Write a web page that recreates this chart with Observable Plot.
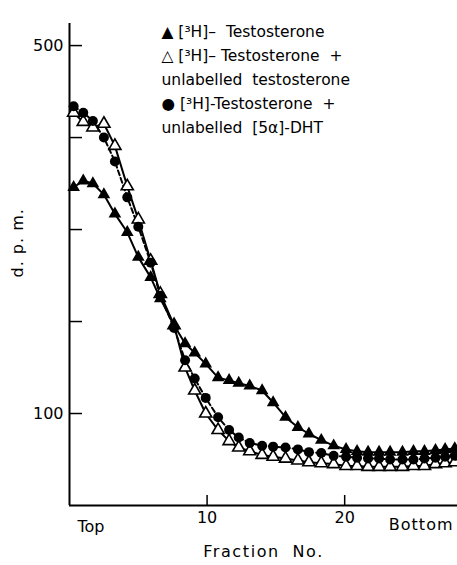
<!DOCTYPE html>
<html><head><meta charset="utf-8">
<script src="https://cdn.jsdelivr.net/npm/d3@7"></script>
<script src="https://cdn.jsdelivr.net/npm/@observablehq/plot@0.6"></script>
<style>html,body{margin:0;padding:0;background:#fff}</style>
</head><body><div id="chart"></div>
<script>
const fraction = [0.3,1.0,1.7,2.5,3.3,4.2,5.0,5.9,6.6,7.6,8.4,9.1,9.9,10.8,11.6,12.3,13.1,14.0,14.8,15.7,16.6,17.4,18.3,19.2,20.1,20.9,21.7,22.5,23.3,24.2,25.0,25.8,26.6,27.3,28.0];
const testosterone = [346,353,350,338,317,297,270,248,225,196,176,166,154,139,136,133,130,125,112,96,85,78,71,65,61,59,58,58,58,58,59,59,60,61,62];
const plusTestosterone = [427,417,411,415,391,347,311,266,230,196,150,125,100,82,70,63,59,55,53,51,49,47,46,45,43,43,42,42,42,42,43,43,45,46,47];
const plusDHT = [434,427,418,400,374,335,303,264,228,193,158,138,117,96,82,74,68,65,64,63,61,58,57,54,53,52,51,51,50,50,50,51,52,53,54];
const yTicks = [100,200,300,400,500];
const yLabels = [100,500];
const xTicks = [10,20];
const legendLines = [
  "▲\u00A0[³H]–\u00A0\u00A0Testosterone",
  "△\u00A0[³H]–\u00A0Testosterone\u00A0\u00A0+",
  "unlabelled\u00A0\u00A0testosterone",
  "●\u00A0[³H]-Testosterone\u00A0\u00A0+",
  "unlabelled\u00A0\u00A0[5α]-DHT"
];

const rows = (vals) => fraction.map((x, i) => ({x, y: vals[i]}));
const A = rows(testosterone), B = rows(plusTestosterone), C = rows(plusDHT);

const plot = Plot.plot({
  width: 457, height: 565,
  marginLeft: 69, marginRight: 0, marginTop: 23, marginBottom: 60,
  style: {fontFamily: "DejaVu Sans", fontSize: "16px", background: "white", color: "black", overflow: "visible"},
  x: {domain: [0, 28.2]},
  y: {domain: [0, 524]},
  marks: [
    Plot.ruleX([0], {strokeWidth: 2}),
    Plot.ruleY([0], {strokeWidth: 2}),
    Plot.ruleY(yTicks, {insetRight: 375, strokeWidth: 1.5}),
    Plot.ruleX(xTicks, {insetTop: 472, strokeWidth: 1.5}),
    Plot.axisY({ticks: yLabels, tickSize: 0, tickPadding: 6, label: null, fontSize: 16}),
    Plot.axisX({ticks: xTicks, tickSize: 0, tickPadding: 6, label: null, fontSize: 16}),
    Plot.line(C, {x: "x", y: "y", strokeWidth: 2, strokeDasharray: "5,3"}),
    Plot.line(B, {x: "x", y: "y", strokeWidth: 2}),
    Plot.line(A, {x: "x", y: "y", strokeWidth: 2}),
    Plot.dot(B, {x: "x", y: "y", symbol: "triangle", r: 4.5, fill: "white", stroke: "black", strokeWidth: 1.6}),
    Plot.dot(C, {x: "x", y: "y", r: 5, fill: "black", stroke: "none"}),
    Plot.dot(A, {x: "x", y: "y", symbol: "triangle", r: 4.7, fill: "black", stroke: "none"}),
    Plot.text([legendLines.join("\n")], {frameAnchor: "top-left", dx: 92, dy: -4, textAnchor: "start", lineAnchor: "top", lineHeight: 1.55, fontSize: 15.5}),
    Plot.text(["Top"], {frameAnchor: "bottom-left", dx: 8, dy: 26, textAnchor: "start", fontSize: 16}),
    Plot.text(["Bottom"], {frameAnchor: "bottom-right", dx: -4, dy: 24, textAnchor: "end", fontSize: 16}),
    Plot.text(["Fraction No."], {frameAnchor: "bottom", dy: 51, fontSize: 16}),
    Plot.text(["d. p. m."], {frameAnchor: "left", rotate: -90, dx: -52, dy: 13, fontSize: 16})
  ]
});
d3.select(plot).selectAll("text")
  .filter(function() { return this.textContent === "Fraction No."; })
  .style("letter-spacing", "1.6px").style("word-spacing", "6px");
d3.select(plot).selectAll("text")
  .filter(function() { return this.textContent === "d. p. m."; })
  .style("letter-spacing", "1px");
d3.select(plot).selectAll("text")
  .filter(function() { return this.textContent === "Bottom"; })
  .style("letter-spacing", "1px");
document.getElementById("chart").appendChild(plot);
</script>
</body></html>
